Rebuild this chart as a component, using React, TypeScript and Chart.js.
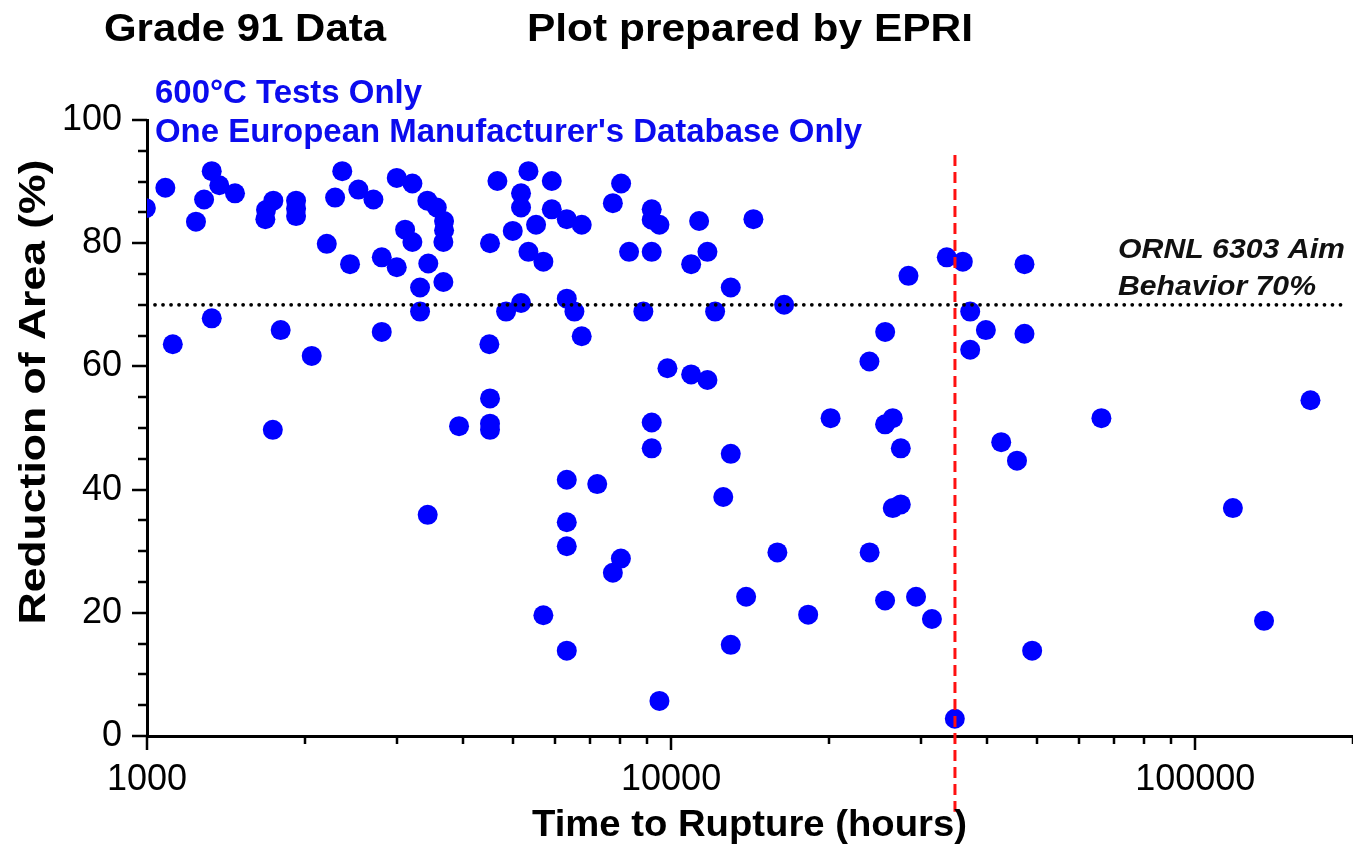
import React, { useEffect, useRef } from 'react';
import { Chart, registerables } from 'chart.js';

Chart.register(...registerables);

// ---- Data ----
const rupHours: number[] = [
  995, 1084, 1329, 1374, 1472, 1285, 1240, 1742, 1687, 1682,
  1925, 1925, 1925, 2358, 2285, 2531, 2704, 2996, 3209, 3427,
  3572, 3688, 3688, 3677, 3108, 3209, 2203, 2440, 2805, 2996,
  3441, 3319, 3677, 3319, 1329, 1120, 1799, 2062, 2805,
  4662, 5343, 5920, 5172, 5172, 5920, 5525, 6323, 6752, 4987,
  4513, 5343, 5705, 8028, 7742, 9183, 9183, 9500, 11309, 14355,
  8314, 9183, 11730, 10920, 12996, 5172, 4843, 6323, 6539, 8852,
  12133, 16430, 6752, 4500, 9840, 10920, 11730,
  28370, 33570, 36020, 47230, 37210, 39860, 47230, 37210, 25610, 23900,
  1738, 3939, 3432, 4513, 4513, 4513, 9183, 9183, 6323, 7228,
  6323, 6323, 8020, 7742, 5705, 6323, 9500, 12996, 12575, 15950,
  13903, 12996, 20150, 25600, 26480, 27430, 42640, 45700, 66220, 165900,
  26480, 27430, 118000, 23920, 18260, 25600, 29330, 31450, 48850, 135300,
  34780,
];
const reductionArea: number[] = [
  85.7, 89.0, 91.7, 89.4, 88.1, 87.1, 83.5, 86.9, 85.4, 83.9,
  86.9, 85.6, 84.4, 91.7, 87.4, 88.7, 87.1, 90.6, 89.7, 86.9,
  85.8, 83.6, 82.1, 80.2, 82.2, 80.2, 79.9, 76.6, 77.7, 76.1,
  76.7, 72.8, 73.7, 68.9, 67.8, 63.6, 65.9, 61.7, 65.6,
  90.1, 91.7, 90.1, 88.1, 85.8, 85.5, 83.0, 83.9, 83.0, 82.0,
  80.0, 78.6, 77.0, 89.7, 86.5, 85.5, 83.8, 83.0, 83.6, 83.9,
  78.6, 78.6, 78.6, 76.6, 72.8, 70.3, 68.9, 71.0, 68.9, 68.9,
  68.9, 70.0, 64.9, 63.6, 59.7, 58.7, 57.8,
  74.7, 77.7, 77.0, 76.6, 68.9, 65.9, 65.3, 62.7, 65.6, 60.8,
  49.7, 50.3, 35.9, 54.8, 50.7, 49.7, 50.9, 46.7, 41.6, 40.9,
  34.7, 30.8, 28.8, 26.5, 19.6, 13.85, 5.7, 45.8, 38.8, 29.8,
  22.6, 14.8, 51.6, 50.6, 51.6, 46.7, 47.7, 44.7, 51.6, 54.5,
  37.0, 37.6, 37.0, 29.8, 19.7, 22.0, 22.6, 19.0, 13.85, 18.7,
  2.8,
];
const aimLevel = 70;
const aimLineHours: number[] = [1000, 193000];
const cutoffHours = 34800;
const cutoffRange: number[] = [94.3, -12.3];
const xTickLabels: number[] = [1000, 10000, 100000];
const yTickLabels: number[] = [0, 20, 40, 60, 80, 100];
const xMin = 1000;
const xMax = 200000;

const FAMILY = '"Liberation Sans", Arial, Helvetica, sans-serif';

function stretchText(
  ctx: CanvasRenderingContext2D,
  text: string,
  x: number,
  y: number,
  font: string,
  color: string,
  width: number,
  rotate = false,
) {
  ctx.save();
  ctx.font = font;
  ctx.fillStyle = color;
  ctx.textBaseline = 'alphabetic';
  const w = ctx.measureText(text).width;
  const sx = width / w;
  ctx.translate(x, y);
  if (rotate) {
    ctx.rotate(-Math.PI / 2);
    ctx.textAlign = 'center';
  } else {
    ctx.textAlign = 'left';
  }
  ctx.scale(sx, 1);
  ctx.fillText(text, 0, 0);
  ctx.restore();
}

const decorPlugin = {
  id: 'decor',
  afterDraw(chart: any) {
    const ctx: CanvasRenderingContext2D = chart.ctx;
    const xs = chart.scales.x;
    const ys = chart.scales.y;
    const area = chart.chartArea;

    // axis ticks (major longer than minor)
    ctx.save();
    ctx.strokeStyle = '#000';
    ctx.lineWidth = 2.5;
    ctx.beginPath();
    for (const d of [1000, 10000, 100000]) {
      for (let m = 1; m <= 9; m++) {
        const v = d * m;
        if (v > xMax) break;
        const px = Math.round(xs.getPixelForValue(v));
        const len = m === 1 ? 14 : 8;
        ctx.moveTo(px, area.bottom);
        ctx.lineTo(px, area.bottom + len);
      }
    }
    for (let v = 0; v <= 100; v += 5) {
      const py = Math.round(ys.getPixelForValue(v));
      const len = v % 20 === 0 ? 15 : 9;
      ctx.moveTo(area.left - len, py);
      ctx.lineTo(area.left, py);
    }
    ctx.stroke();
    ctx.restore();

    // header
    stretchText(ctx, 'Grade 91 Data', 104, 41, `bold 38px ${FAMILY}`, '#000', 282);
    stretchText(ctx, 'Plot prepared by EPRI', 527, 41, `bold 38px ${FAMILY}`, '#000', 446);

    // blue notes
    const blue = '#0b0bee';
    stretchText(ctx, '600°C Tests Only', 155, 103, `bold 33px ${FAMILY}`, blue, 267);
    stretchText(ctx, "One European Manufacturer's Database Only", 155, 142, `bold 33px ${FAMILY}`, blue, 707);

    // aim annotation
    stretchText(ctx, 'ORNL 6303 Aim', 1118, 258, `italic bold 28px ${FAMILY}`, '#111', 227);
    stretchText(ctx, 'Behavior 70%', 1118, 295, `italic bold 28px ${FAMILY}`, '#111', 198);

    // axis titles
    stretchText(ctx, 'Time to Rupture (hours)', 532, 836, `bold 36px ${FAMILY}`, '#000', 435);
    stretchText(ctx, 'Reduction of Area (%)', 45, 392, `bold 36px ${FAMILY}`, '#000', 465, true);
  },
};

export default function App() {
  const canvasRef = useRef<HTMLCanvasElement | null>(null);

  useEffect(() => {
    const canvas = canvasRef.current;
    if (!canvas) return;
    const points = rupHours.map((h, i) => ({ x: h, y: reductionArea[i] }));
    const chart = new Chart(canvas, {
      type: 'scatter',
      data: {
        datasets: [
          {
            label: 'Cutoff',
            data: cutoffRange.map((y) => ({ x: cutoffHours, y })),
            showLine: true,
            borderColor: '#ff1010',
            borderWidth: 3,
            borderDash: [11, 6],
            pointRadius: 0,
            clip: false as any,
          },
          {
            label: 'ORNL 6303 Aim',
            data: aimLineHours.map((x) => ({ x, y: aimLevel })),
            showLine: true,
            borderColor: '#000',
            borderWidth: 3.8,
            borderDash: [0.01, 8],
            borderCapStyle: 'round',
            pointRadius: 0,
          },
          {
            label: 'Reduction of Area',
            data: points,
            backgroundColor: '#0000ff',
            borderWidth: 0,
            pointRadius: 10,
            pointHoverRadius: 10,
          },
        ],
      },
      options: {
        responsive: false,
        animation: false,
        devicePixelRatio: 1,
        events: [],
        layout: { autoPadding: false, padding: { top: 120, left: 0, right: 0, bottom: 0 } },
        plugins: {
          legend: { display: false },
          tooltip: { enabled: false },
          title: { display: false },
        },
        scales: {
          x: {
            type: 'logarithmic',
            position: 'bottom',
            min: xMin,
            max: xMax,
            afterFit: (s: any) => {
              s.height = 109;
              s.paddingLeft = 0;
              s.paddingRight = 0;
            },
            afterBuildTicks: (s: any) => {
              s.ticks = xTickLabels.map((v) => ({ value: v }));
            },
            grid: { display: true, drawOnChartArea: false, drawTicks: false },
            border: { display: true, color: '#000', width: 3 },
            ticks: {
              autoSkip: false,
              maxRotation: 0,
              padding: 22,
              color: '#000',
              font: { family: FAMILY, size: 36 },
              callback: (v: any) => String(v),
            },
          },
          y: {
            type: 'linear',
            min: 0,
            max: 100,
            afterFit: (s: any) => {
              s.width = 147;
            },
            afterBuildTicks: (s: any) => {
              s.ticks = yTickLabels.map((v) => ({ value: v }));
            },
            grid: { display: true, drawOnChartArea: false, drawTicks: false },
            border: { display: true, color: '#000', width: 3 },
            ticks: {
              padding: 25,
              color: '#000',
              font: { family: FAMILY, size: 36 },
              callback: (v: any) => String(v),
            },
          },
        },
      },
      plugins: [decorPlugin],
    } as any);
    return () => chart.destroy();
  }, []);

  return (
    <div style={{ position: 'absolute', left: 0, top: 0, width: 1353, height: 845, background: '#fff' }}>
      <canvas ref={canvasRef} width={1353} height={845} style={{ width: 1353, height: 845, display: 'block' }} />
    </div>
  );
}
